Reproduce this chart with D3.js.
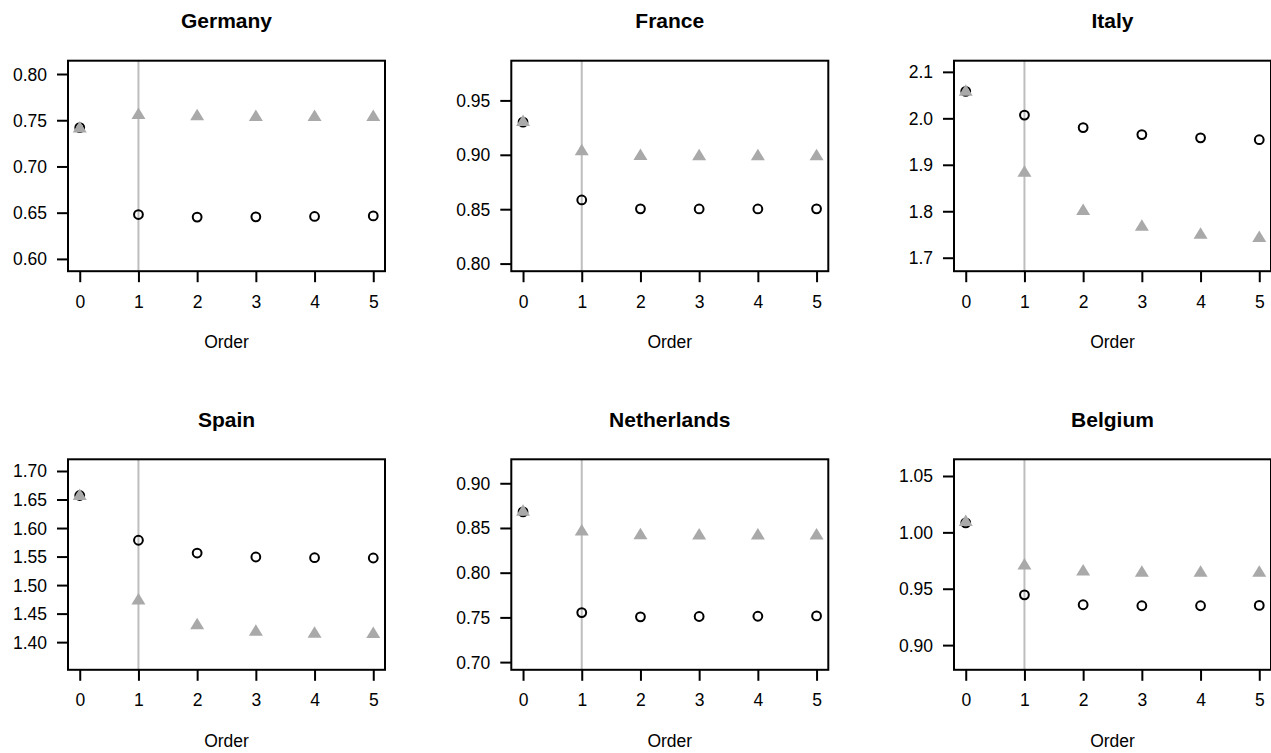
<!DOCTYPE html>
<html>
<head>
<meta charset="utf-8">
<script src="https://cdn.jsdelivr.net/npm/d3@7"></script>
<style>
  body { margin: 0; background: #fff; }
  svg { display: block; font-family: "Liberation Sans", Arial, sans-serif; }
</style>
</head>
<body>
<svg id="chart" width="1271" height="753"></svg>
<script>
// data
const countries = ["Germany", "France", "Italy", "Spain", "Netherlands", "Belgium"];
const orders = [0, 1, 2, 3, 4, 5];

// black open circles
const circleValues = [
  [0.742, 0.648, 0.6452, 0.6455, 0.6459, 0.6465],
  [0.930, 0.8585, 0.8503, 0.8502, 0.8502, 0.8503],
  [2.058, 2.007, 1.980, 1.965, 1.958, 1.954],
  [1.657, 1.5786, 1.5562, 1.5492, 1.548, 1.5475],
  [0.868, 0.7554, 0.7506, 0.7510, 0.7513, 0.7517],
  [1.0084, 0.9446, 0.9358, 0.9349, 0.9349, 0.9352]
];

// grey filled triangles
const triangleValues = [
  [0.741, 0.7555, 0.7540, 0.7533, 0.7533, 0.7533],
  [0.930, 0.903, 0.8987, 0.8985, 0.8985, 0.8985],
  [2.057, 1.8824, 1.8004, 1.7665, 1.7493, 1.742],
  [1.656, 1.4729, 1.4291, 1.4179, 1.4146, 1.414],
  [0.868, 0.8459, 0.8418, 0.8415, 0.8415, 0.8415],
  [1.009, 0.9705, 0.9652, 0.964, 0.964, 0.964]
];

const yLimits = [
  [0.5867, 0.8144],
  [0.793, 0.9865],
  [1.671, 2.124],
  [1.3515, 1.7205],
  [0.6914, 0.9268],
  [0.8781, 1.0648]
];

const yTickValues = [
  [0.60, 0.65, 0.70, 0.75, 0.80],
  [0.80, 0.85, 0.90, 0.95],
  [1.7, 1.8, 1.9, 2.0, 2.1],
  [1.40, 1.45, 1.50, 1.55, 1.60, 1.65, 1.70],
  [0.70, 0.75, 0.80, 0.85, 0.90],
  [0.90, 0.95, 1.00, 1.05]
];
const yTickFormats = [".2f", ".2f", ".1f", ".2f", ".2f", ".2f"];
const xTickValues = [0, 1, 2, 3, 4, 5];
const markerOrder = 1; // vertical reference line

// layout
const boxLefts = [68, 511.3, 954];
const boxTops = [60.7, 459.3];
const boxW = 317, boxH = 210.5;
const fontSize = 17.5;

const svg = d3.select("#chart");

const triangle = (w, h) => `M0,${-2 * h / 3}L${w / 2},${h / 3}L${-w / 2},${h / 3}Z`;

countries.forEach((name, i) => {
  const left = boxLefts[i % 3];
  const top = boxTops[Math.floor(i / 3)];
  const g = svg.append("g").attr("transform", `translate(${left},${top})`);

  const x = d3.scaleLinear().domain([-0.2, 5.2]).range([0, boxW]);
  const y = d3.scaleLinear().domain(yLimits[i]).range([boxH, 0]);

  // title
  g.append("text")
    .attr("x", boxW / 2)
    .attr("y", -40)
    .attr("text-anchor", "middle")
    .attr("dominant-baseline", "central")
    .attr("font-weight", "bold")
    .attr("font-size", 21)
    .text(name);

  // y axis
  const yAxis = g.append("g")
    .call(d3.axisLeft(y).tickValues(yTickValues[i]).tickFormat(d3.format(yTickFormats[i]))
      .tickSize(11).tickPadding(10));
  // x axis
  const xAxis = g.append("g")
    .attr("transform", `translate(0,${boxH})`)
    .call(d3.axisBottom(x).tickValues(xTickValues).tickFormat(d3.format("d"))
      .tickSize(11).tickPadding(10));

  [yAxis, xAxis].forEach(ax => {
    ax.select(".domain").remove();
    ax.selectAll(".tick line").attr("stroke", "#000").attr("stroke-width", 2);
    ax.selectAll(".tick text")
      .attr("fill", "#000")
      .attr("font-size", fontSize)
      .attr("font-family", "'Liberation Sans', Arial, sans-serif");
  });
  xAxis.selectAll(".tick text").attr("dy", null).attr("y", 30.7).attr("dominant-baseline", "central");
  yAxis.selectAll(".tick text").attr("dy", null).attr("dominant-baseline", "central");

  // x label
  g.append("text")
    .attr("x", boxW / 2)
    .attr("y", boxH + 71.3)
    .attr("text-anchor", "middle")
    .attr("dominant-baseline", "central")
    .attr("font-size", fontSize)
    .text("Order");

  // vertical line at order 1
  g.append("line")
    .attr("x1", x(markerOrder)).attr("x2", x(markerOrder))
    .attr("y1", 0).attr("y2", boxH)
    .attr("stroke", "#bebebe")
    .attr("stroke-width", 2);

  // circles
  g.append("g")
    .selectAll("circle")
    .data(orders)
    .join("circle")
    .attr("cx", d => x(d))
    .attr("cy", (d, j) => y(circleValues[i][j]))
    .attr("r", 4.4)
    .attr("fill", "none")
    .attr("stroke", "#000")
    .attr("stroke-width", 2);

  // triangles
  g.append("g")
    .selectAll("path")
    .data(orders)
    .join("path")
    .attr("transform", (d, j) => `translate(${x(d)},${y(triangleValues[i][j])})`)
    .attr("d", triangle(14, 11.5))
    .attr("fill", "#a9a9a9");

  // box
  g.append("rect")
    .attr("x", 0).attr("y", 0)
    .attr("width", boxW).attr("height", boxH)
    .attr("fill", "none")
    .attr("stroke", "#000")
    .attr("stroke-width", 2);
});
</script>
</body>
</html>
